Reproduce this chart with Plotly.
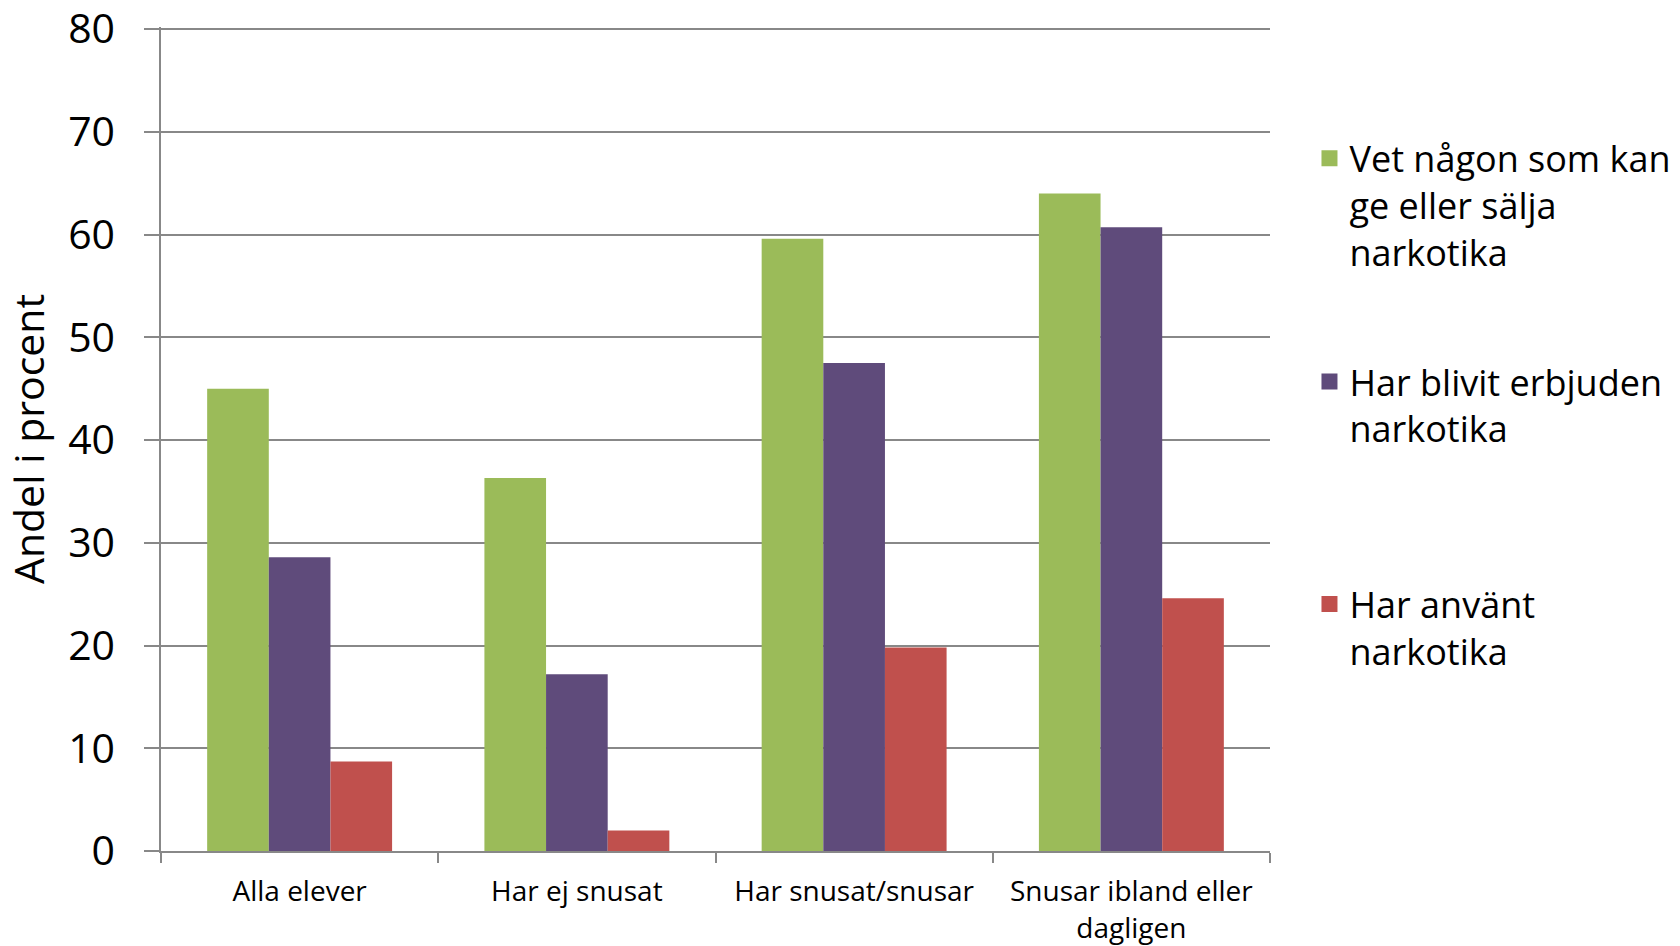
import plotly.graph_objects as go

categories = ["Alla elever", "Har ej snusat", "Har snusat/snusar", "Snusar ibland eller<br>dagligen"]
series_names = [
    "Vet någon som kan<br>ge eller sälja<br>narkotika",
    "Har blivit erbjuden<br>narkotika",
    "Har använt<br>narkotika",
]
vet_nagon = [45.0, 36.3, 59.6, 64.0]
erbjuden = [28.6, 17.2, 47.5, 60.7]
anvant = [8.7, 2.0, 19.8, 24.6]
y_ticks = [0, 10, 20, 30, 40, 50, 60, 70, 80]

colors = ["#9BBB59", "#5F4B7B", "#C0504D"]
series_values = [vet_nagon, erbjuden, anvant]
legends = ["legend", "legend2", "legend3"]

fig = go.Figure()
for name, vals, col in zip(series_names, series_values, colors):
    fig.add_trace(go.Bar(
        x=categories, y=vals, name=name, showlegend=False,
        marker=dict(color=col, line=dict(width=0)),
    ))
# legend entries (larger square swatches)
for name, col, lg in zip(series_names, colors, legends):
    fig.add_trace(go.Scatter(
        x=[None], y=[None], name=name, legend=lg, mode="markers",
        marker=dict(symbol="square", size=16, color=col, line=dict(width=0)),
        hoverinfo="skip",
    ))

GRAY = "#888888"
FONT = "Open Sans"
leg_common = dict(
    x=1.0356, xanchor="left", yanchor="top",
    font=dict(family=FONT, size=36, color="#000000"),
    bgcolor="rgba(0,0,0,0)", borderwidth=0, valign="top",
    itemsizing="trace",
)

fig.update_layout(
    width=1680, height=946,
    margin=dict(l=161, r=410, t=27, b=95, pad=0, autoexpand=False),
    paper_bgcolor="white", plot_bgcolor="white",
    barmode="group", bargap=0.333, bargroupgap=0,
    showlegend=True,
    legend=dict(y=0.877, **leg_common),
    legend2=dict(y=0.606, **leg_common),
    legend3=dict(y=0.336, **leg_common),
    font=dict(family=FONT, color="#000000"),
)

fig.update_yaxes(
    range=[0, 80.2], tickvals=y_ticks, ticktext=[str(v) for v in y_ticks],
    showgrid=True, gridcolor=GRAY, gridwidth=1.5,
    showline=True, linecolor=GRAY, linewidth=1.5,
    ticks="outside", ticklen=15, tickcolor=GRAY, tickwidth=1.5,
    tickfont=dict(family=FONT, size=41, color="#000000"),
    ticklabelstandoff=21, ticklabeloverflow="allow",
    zeroline=False,
    title=dict(text="Andel i procent", font=dict(family=FONT, size=41, color="#000000"), standoff=22),
)
fig.update_xaxes(
    showline=True, linecolor=GRAY, linewidth=1.5,
    ticks="outside", ticklen=10, tickcolor=GRAY, tickwidth=1.5,
    tickson="boundaries",
    tickfont=dict(family=FONT, size=28, color="#000000"),
    ticklabelstandoff=15,
)

fig.write_html(
    "out.html",
    config={"displayModeBar": False},
    post_script="document.body.style.margin='0';",
)
